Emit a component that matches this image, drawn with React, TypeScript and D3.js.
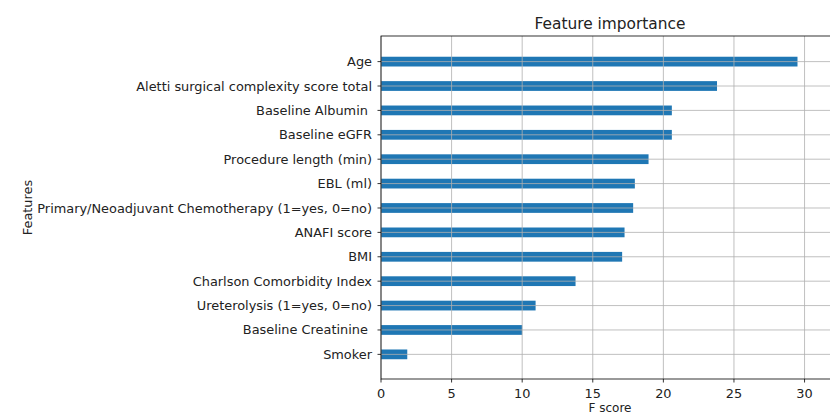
import React from "react";
import * as d3 from "d3";

const features = [
  "Age",
  "Aletti surgical complexity score total",
  "Baseline Albumin ",
  "Baseline eGFR",
  "Procedure length (min)",
  "EBL (ml)",
  "Primary/Neoadjuvant Chemotherapy (1=yes, 0=no)",
  "ANAFI score",
  "BMI",
  "Charlson Comorbidity Index",
  "Ureterolysis (1=yes, 0=no)",
  "Baseline Creatinine ",
  "Smoker",
];
const scores = [29.5, 23.8, 20.6, 20.6, 18.95, 17.98, 17.86, 17.25, 17.08, 13.78, 10.95, 10.0, 1.86];
const xTicks = [0, 5, 10, 15, 20, 25, 30];

const W = 830;
const H = 414;
const left = 381;
const right = 839;
const top = 36;
const bottom = 379;
const font = "DejaVu Sans, sans-serif";
const fs = 12.9;

export default function App() {
  const n = features.length;
  const x = d3.scaleLinear().domain([0, 32.44]).range([left, right]);
  const y = d3.scaleLinear().domain([-1.01, n + 0.05]).range([bottom, top]);
  const pos = (i: number) => n - 1 - i;
  const barH = Math.abs(y(0.2) - y(-0.2));
  return (
    <svg width={W} height={H} style={{ position: "absolute", left: 0, top: 0, background: "#fff" }}>
      {features.map((f, i) => (
        <rect
          key={f}
          x={x(0)}
          y={y(pos(i)) - barH / 2}
          width={x(scores[i]) - x(0)}
          height={barH}
          fill="#1f77b4"
        />
      ))}
      {xTicks.map((t) => (
        <line key={"gx" + t} x1={x(t)} x2={x(t)} y1={top} y2={bottom} stroke="#b0b0b0" strokeWidth={0.8} />
      ))}
      {features.map((f, i) => (
        <line key={"gy" + f} x1={left} x2={right} y1={y(pos(i))} y2={y(pos(i))} stroke="#b0b0b0" strokeWidth={0.8} />
      ))}
      <rect x={left} y={top} width={right - left} height={bottom - top} fill="none" stroke="#000" strokeWidth={0.8} />
      {xTicks.map((t) => (
        <g key={"xt" + t}>
          <line x1={x(t)} x2={x(t)} y1={bottom} y2={bottom + 3.5} stroke="#000" strokeWidth={0.8} />
          <text x={x(t)} y={bottom + 19} textAnchor="middle" fontFamily={font} fontSize={fs} fill="#222">
            {t}
          </text>
        </g>
      ))}
      {features.map((f, i) => (
        <g key={"yt" + f}>
          <line x1={left - 3.5} x2={left} y1={y(pos(i))} y2={y(pos(i))} stroke="#000" strokeWidth={0.8} />
          <text
            x={left - 9}
            y={y(pos(i))}
            dy="0.35em"
            textAnchor="end"
            fontFamily={font}
            fontSize={fs}
            fill="#222"
            style={{ whiteSpace: "pre" }}
          >
            {f}
          </text>
        </g>
      ))}
      <text x={(left + right) / 2} y={top - 7} textAnchor="middle" fontFamily={font} fontSize={15.4} fill="#222">
        Feature importance
      </text>
      <text x={(left + right) / 2} y={411.5} textAnchor="middle" fontFamily={font} fontSize={12} fill="#222">
        F score
      </text>
      <text
        transform={`translate(31.5, ${(top + bottom) / 2}) rotate(-90)`}
        textAnchor="middle"
        fontFamily={font}
        fontSize={fs}
        fill="#222"
      >
        Features
      </text>
    </svg>
  );
}
